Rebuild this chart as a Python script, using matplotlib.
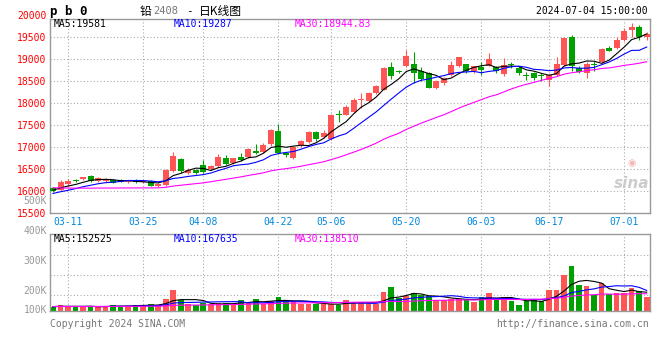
import matplotlib
matplotlib.use("Agg")
import matplotlib.pyplot as plt
import numpy as np
import pandas as pd

# daily candles, 2024-03-07 .. 2024-07-04 (80 trading days)
opens = [16070, 16015, 16150, 16245, 16265, 16340, 16230, 16220, 16245, 16250,
         16190, 16235, 16200, 16230, 16110, 16130, 16450, 16720, 16395, 16485,
         16600, 16500, 16560, 16760, 16640, 16770, 16780, 16910, 16890, 17060,
         17370, 16870, 16740, 17040, 17120, 17350, 17230, 17180, 17760, 17740,
         17800, 18070, 18060, 18240, 18310, 18820, 18740, 18860, 18900, 18730,
         18690, 18350, 18460, 18640, 18860, 18890, 18730, 18820, 18860, 18820,
         18670, 18890, 18800, 18640, 18690, 18640, 18520, 18650, 18880, 19500,
         18800, 18690, 18890, 18950, 19260, 19260, 19450, 19680, 19730, 19510]
highs = [16080, 16245, 16260, 16280, 16320, 16360, 16310, 16290, 16270, 16270,
         16240, 16260, 16240, 16250, 16170, 16490, 16880, 16740, 16510, 16500,
         16700, 16600, 16830, 16810, 16760, 16870, 16980, 17060, 17080, 17420,
         17520, 16890, 17020, 17170, 17370, 17370, 17390, 17760, 17840, 17960,
         18110, 18230, 18260, 18420, 18830, 18930, 18760, 19220, 19180, 18830,
         18710, 18530, 18600, 18960, 19060, 18900, 18860, 18930, 19140, 18860,
         19040, 18930, 18840, 18720, 18720, 18680, 18660, 19050, 19500, 19550,
         18860, 18930, 18970, 19250, 19300, 19520, 19720, 19830, 19780, 19630]
lows = [15970, 15990, 16090, 16200, 16240, 16200, 16200, 16190, 16170, 16190,
        16170, 16180, 16170, 16100, 16090, 16110, 16430, 16400, 16380, 16380,
        16400, 16480, 16540, 16590, 16620, 16670, 16760, 16830, 16860, 17030,
        16830, 16780, 16730, 17000, 17100, 17130, 17210, 17160, 17560, 17720,
        17780, 17880, 18030, 18220, 18290, 18560, 18680, 18830, 18450, 18510,
        18340, 18320, 18420, 18620, 18830, 18700, 18700, 18640, 18840, 18700,
        18610, 18800, 18650, 18530, 18540, 18500, 18400, 18620, 18860, 18730,
        18700, 18580, 18740, 18920, 19190, 19240, 19420, 19500, 19450, 19450]
closes = [15992, 16205, 16230, 16235, 16305, 16220, 16290, 16260, 16185, 16205,
          16220, 16205, 16210, 16115, 16150, 16465, 16800, 16450, 16470, 16400,
          16435, 16560, 16775, 16620, 16740, 16700, 16950, 16860, 17040, 17380,
          16870, 16820, 16990, 17140, 17340, 17190, 17320, 17730, 17740, 17910,
          18075, 18085, 18235, 18390, 18800, 18630, 18720, 19070, 18690, 18550,
          18350, 18515, 18575, 18880, 19050, 18740, 18840, 18760, 19000, 18730,
          18880, 18870, 18700, 18625, 18580, 18630, 18650, 18890, 19485, 18840,
          18710, 18890, 18870, 19240, 19200, 19450, 19640, 19730, 19500, 19590]
volumes = [33100, 46900, 33100, 33100, 33100, 38600, 27600, 38600, 46900, 38600,
           38600, 46900, 46900, 55200, 46900, 96600, 171100, 88300, 55200, 46900,
           60700, 55200, 60700, 60700, 55200, 88300, 74500, 96600, 55200, 80000,
           113200, 80000, 80000, 55200, 55200, 55200, 55200, 55200, 46900, 88300,
           71800, 71800, 55200, 55200, 154600, 196000, 102100, 118700, 146300, 129700,
           121400, 88300, 88300, 99400, 99400, 93800, 74500, 113200, 146300, 93800,
           113200, 80000, 46900, 77300, 96600, 80000, 171100, 171100, 295300, 369800,
           212500, 204200, 129700, 226300, 138000, 149000, 149000, 190400, 162800, 113200]

# closes / volumes before the window, estimated from where the MA lines start
prev_closes = [16350, 16300, 16280, 16320, 16250, 16200, 16260, 16180, 16150, 16220,
               16170, 16190, 16140, 16110, 16080, 15960, 15880, 15920, 15850, 15890,
               15820, 15900, 15850, 15880, 15875, 15950, 16010, 16060, 16060]
prev_volumes = [35000, 38000, 33000, 36000, 34000, 37000, 32000, 35000, 36000, 33000,
                34000, 38000, 35000, 33000, 36000, 34000, 35000, 37000, 33000, 34000,
                36000, 35000, 32000, 34000, 36000, 33000, 35000, 34000, 33000]

tick_idx = [2, 12, 20, 30, 37, 47, 57, 66, 76]
tick_labels = ["03-11", "03-25", "04-08", "04-22", "05-06", "05-20", "06-03", "06-17", "07-01"]
price_ticks = [15500, 16000, 16500, 17000, 17500, 18000, 18500, 19000, 19500]
vol_labels = ["500K", "400K", "300K", "200K", "100K"]

UP = "#ff5555"
DOWN = "#00a000"
GRID = "#aaaaaa"
FRAME = "#999999"
MONO = "DejaVu Sans Mono"

n = len(closes)
x = np.arange(n)
o = np.array(opens); c = np.array(closes)
h = np.array(highs); l = np.array(lows)
col = [UP if cc >= oo else DOWN for oo, cc in zip(o, c)]

allc = pd.Series(prev_closes + closes)
allv = pd.Series(prev_volumes + volumes)
k = len(prev_closes)
ma = {p: allc.rolling(p).mean().values[k:] for p in (5, 10, 30)}
vma = {p: allv.rolling(p).mean().values[k:] for p in (5, 10, 30)}

W, H = 660, 360
fig = plt.figure(figsize=(6.6, 3.6), dpi=100)


def fx(px):
    return px / W


def fy(py):
    return 1 - py / H


ax = fig.add_axes([fx(50), fy(212.7), fx(600), (212.7 - 19) / H])
axv = fig.add_axes([fx(50), fy(310.7), fx(600), (310.7 - 234.3) / H])

xlim = (-0.4, n - 1 + 0.44)

# ---- price panel
ax.vlines(x, l, h, colors=col, linewidth=0.8, zorder=2)
body_lo = np.minimum(o, c)
body_h = np.maximum(np.abs(c - o), 20)
ax.bar(x, body_h, bottom=body_lo, width=0.8, color=col, linewidth=0, zorder=3)
ax.plot(x, ma[5], color="black", lw=0.8, zorder=4)
ax.plot(x, ma[10], color="#0000ff", lw=0.8, zorder=4)
ax.plot(x, ma[30], color="#ff00ff", lw=0.8, zorder=4)

ax.set_xlim(*xlim)
ax.set_ylim(15500, 19922)
ax.set_yticks(price_ticks)
ax.set_yticklabels([str(v) for v in price_ticks], family=MONO, fontsize=7, color="#ff0000")
ax.set_xticks(tick_idx)
ax.set_xticklabels(tick_labels, family=MONO, fontsize=7, color="#0088dd")
ax.tick_params(length=0, pad=2.5)
ax.tick_params(axis="x", pad=3)
fig.text(fx(47), fy(15.6), "20000", ha="right", va="center",
         family=MONO, fontsize=7, color="#ff0000")

# ---- volume panel
axv.bar(x, volumes, width=0.75, color=col, linewidth=0, zorder=2)
axv.plot(x, vma[5], color="black", lw=0.8, zorder=3)
axv.plot(x, vma[10], color="#0000ff", lw=0.8, zorder=3)
axv.plot(x, vma[30], color="#ff00ff", lw=0.8, zorder=3)
vol_top = 632600
axv.set_xlim(*xlim)
axv.set_ylim(0, vol_top)
axv.set_yticks([vol_top * f for f in (0.2055, 0.467, 0.729)])
axv.set_yticklabels([])
axv.set_xticks(tick_idx)
axv.set_xticklabels([])
axv.tick_params(length=0)

for a in (ax, axv):
    a.grid(True, color=GRID, linestyle=(0, (1, 2)), linewidth=0.8, zorder=0)
    a.set_axisbelow(True)
    for s in a.spines.values():
        s.set_color(FRAME)
        s.set_linewidth(1.0)

for lab, py in zip(vol_labels, [200.7, 230.7, 260.7, 290.7, 310]):
    fig.text(fx(47), fy(py), lab, ha="right", va="center", family=MONO, fontsize=7, color="#999999")

# ---- header / legends
fig.text(fx(50), fy(11), "p b 0", ha="left", va="center", family=MONO, fontsize=9,
         fontweight="bold", color="black")
fig.text(fx(140), fy(11), "铅", ha="left", va="center", family="Noto Sans CJK SC", fontsize=8.5, color="black")
fig.text(fx(153), fy(11), "2408", ha="left", va="center", family=MONO, fontsize=7.5, color="#777777")
fig.text(fx(186), fy(11), "-", ha="left", va="center", family=MONO, fontsize=8, color="black")
fig.text(fx(199), fy(11), "日K线图", ha="left", va="center", family="Noto Sans CJK SC", fontsize=8.5, color="black")
fig.text(fx(648), fy(11), "2024-07-04 15:00:00", ha="right", va="center", family=MONO, fontsize=7, color="black")

legend_x = [54, 174, 295]
legend_cols = ["black", "#0000ff", "#ff00ff"]
price_leg = ["MA5:19581", "MA10:19287", "MA30:18944.83"]
vol_leg = ["MA5:152525", "MA10:167635", "MA30:138510"]
for lx, lc, t1, t2 in zip(legend_x, legend_cols, price_leg, vol_leg):
    fig.text(fx(lx), fy(24), t1, ha="left", va="center", family=MONO, fontsize=7, color=lc)
    fig.text(fx(lx), fy(238.5), t2, ha="left", va="center", family=MONO, fontsize=7, color=lc)

fig.text(fx(50), fy(324), "Copyright 2024 SINA.COM", ha="left", va="center", family=MONO, fontsize=7, color="#777777")
fig.text(fx(649), fy(324), "http://finance.sina.com.cn", ha="right", va="center", family=MONO, fontsize=7, color="#777777")

# sina watermark
fig.text(fx(632), fy(163), "◉", ha="center", va="center", fontsize=7, color="#f2b8b8")
fig.text(fx(632), fy(183), "sina", ha="center", va="center", fontsize=11, style="italic",
         fontweight="bold", color="#cccccc")

fig.savefig("out.png", dpi=100)
